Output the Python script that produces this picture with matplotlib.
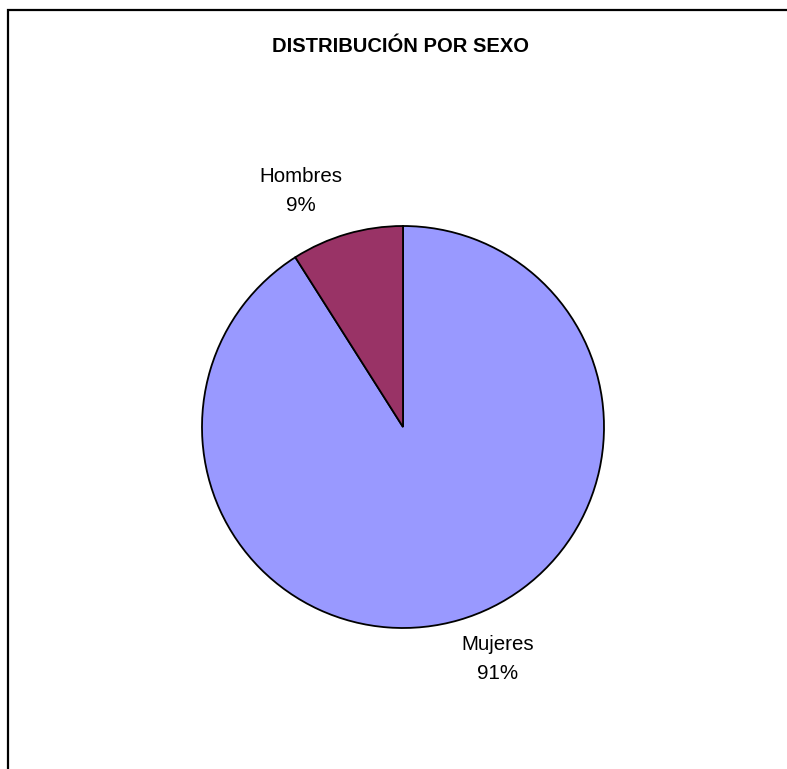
import matplotlib
matplotlib.use("Agg")
import matplotlib.pyplot as plt
from matplotlib.patches import Rectangle

plt.rcParams['font.family'] = ['Liberation Sans', 'DejaVu Sans']

categories = ['Mujeres', 'Hombres']
percentages = [91, 9]
colors = ['#9999FF', '#993366']

W, H = 787, 769
fig = plt.figure(figsize=(W / 100, H / 100), dpi=100)

# chart frame (runs off the right and bottom edge)
fig.add_artist(Rectangle((8 / W, -0.05), 1.1, 1 - 10 / H + 0.05,
                         transform=fig.transFigure, fill=False,
                         edgecolor='black', linewidth=1.6))

fig.text(400 / W, 1 - 47 / H, 'DISTRIBUCIÓN POR SEXO', ha='center', va='center',
         fontsize=14.5, fontweight='bold')

cx, cy, r = 403, 427, 201
ax = fig.add_axes([(cx - r) / W, (H - cy - r) / H, 2 * r / W, 2 * r / H])
wedges, _ = ax.pie(percentages, colors=colors, startangle=90, counterclock=False,
                   radius=1, wedgeprops=dict(edgecolor='black', linewidth=1.3))
ax.set_xlim(-1, 1)
ax.set_ylim(-1, 1)
ax.set_aspect('equal')
ax.axis('off')

label_pos = [(0.47, -1.155), (-0.51, 1.175)]
for name, pct, (lx, ly) in zip(categories, percentages, label_pos):
    ax.text(lx, ly, f'{name}\n{pct}%', ha='center', va='center', fontsize=14.8,
            linespacing=1.7, clip_on=False)

fig.savefig('out.png', dpi=100)
